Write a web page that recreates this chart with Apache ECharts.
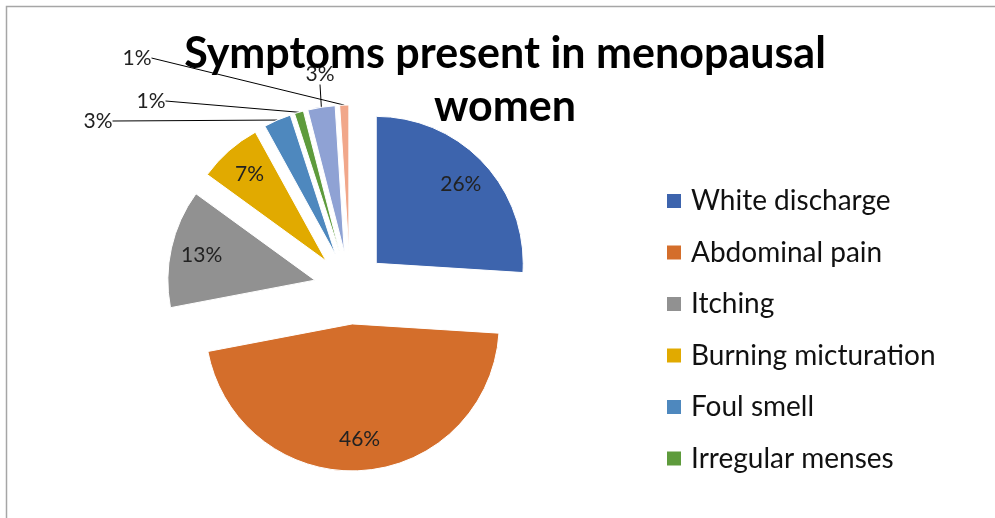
<!DOCTYPE html>
<html>
<head>
<meta charset="utf-8">
<script src="https://cdn.jsdelivr.net/npm/echarts@6/dist/echarts.min.js"></script>
<style>
  html, body { margin: 0; padding: 0; background: #fff; }
  #chart { width: 995px; height: 518px; }
</style>
</head>
<body>
<div id="chart"></div>
<script>
// data
const symptoms = ['White discharge', 'Abdominal pain', 'Itching', 'Burning micturation',
  'Foul smell', 'Irregular menses', 'Other complaints', 'Others']
const shares = [26, 46, 13, 7, 3, 1, 3, 1]
const legendNames = symptoms.slice(0, 6)

const sliceColors = ['#3d64ad', '#d46e2b', '#919191', '#e1aa00', '#4e88be', '#5e9b3c', '#8fa2d4', '#f1a78a']
// where the small outside labels sit (label centres)
const labelSpots = { 4: [98, 121], 5: [151, 101], 6: [320, 74], 7: [137, 58] }

const chart = echarts.init(document.getElementById('chart'))
const font = 'Lato, "Liberation Sans", sans-serif'
const pieCenter = [350, 288]
const explode = 36

const mainData = symptoms.map((name, i) => ({
  name: name,
  value: shares[i],
  selected: true,
  itemStyle: { color: sliceColors[i] }
}))
const innerLabelData = symptoms.map((name, i) => ({
  name: name,
  value: shares[i],
  selected: true,
  label: { show: i < 4 }
}))
const outerLabelData = symptoms.map((name, i) => ({
  name: name,
  value: shares[i],
  label: { show: i >= 4 },
  labelLine: { show: i >= 4 }
}))

const option = {
  animation: false,
  title: {
    text: 'Symptoms present in menopausal\nwomen',
    left: 500,
    top: 23,
    textAlign: 'center',
    textStyle: { fontFamily: font, fontWeight: 'bold', fontSize: 43, lineHeight: 53, color: '#000' }
  },
  graphic: [{
    type: 'rect',
    shape: { x: 6.5, y: 6.5, width: 1200, height: 800 },
    style: { fill: null, stroke: '#a6a6a6', lineWidth: 1.5 },
    silent: true
  }],
  legend: {
    orient: 'vertical',
    left: 665,
    top: 186,
    padding: 0,
    data: legendNames,
    icon: 'rect',
    itemWidth: 16,
    itemHeight: 16,
    itemGap: 21.5,
    textStyle: { fontFamily: font, fontSize: 28, lineHeight: 30, color: '#111', padding: [0, 0, 0, 4] }
  },
  series: [{
    type: 'pie',
    center: pieCenter,
    radius: 147,
    startAngle: 90,
    clockwise: true,
    selectedMode: 'multiple',
    selectedOffset: explode,
    itemStyle: { borderColor: '#fff', borderWidth: 1 },
    emphasis: { disabled: true },
    label: { show: false },
    labelLine: { show: false },
    data: mainData
  }, {
    // invisible copy, only carries the percent labels inside the big slices
    type: 'pie',
    center: pieCenter,
    radius: [80, 146],
    startAngle: 90,
    clockwise: true,
    selectedMode: 'multiple',
    selectedOffset: explode,
    silent: true,
    itemStyle: { color: 'rgba(0,0,0,0)' },
    label: {
      position: 'inside',
      formatter: '{c}%',
      fontFamily: font,
      fontSize: 21,
      color: '#222'
    },
    labelLine: { show: false },
    data: innerLabelData
  }, {
    // invisible ring at the outer edge of the exploded slices, for the leader-line labels
    type: 'pie',
    center: pieCenter,
    radius: [178, 147 + explode],
    startAngle: 90,
    clockwise: true,
    silent: true,
    avoidLabelOverlap: false,
    itemStyle: { color: 'rgba(0,0,0,0)' },
    label: {
      position: 'outside',
      formatter: '{c}%',
      fontFamily: font,
      fontSize: 21,
      color: '#222'
    },
    labelLine: { length: 5, length2: 0, lineStyle: { color: '#000', width: 1 } },
    labelLayout: function (params) {
      const p = labelSpots[params.dataIndex]
      if (!p) return
      return { x: p[0], y: p[1], align: 'center', verticalAlign: 'middle' }
    },
    data: outerLabelData
  }]
}
chart.setOption(option)
</script>
</body>
</html>
